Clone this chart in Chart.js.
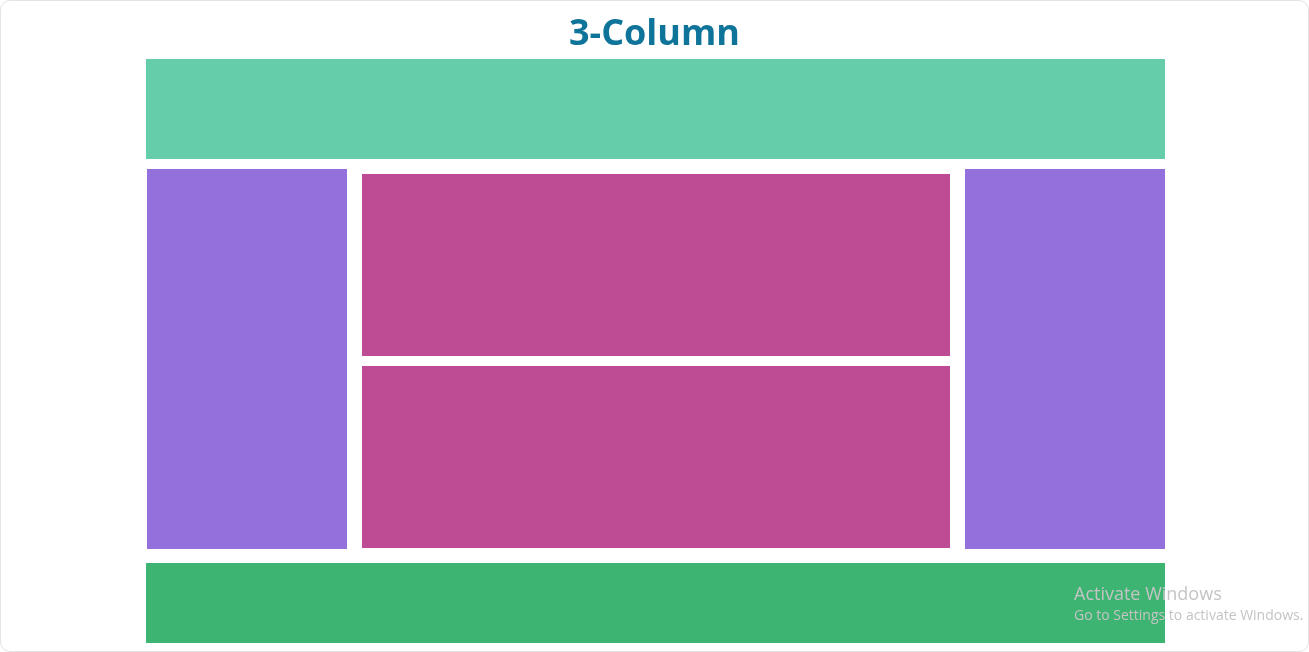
<!DOCTYPE html>
<html>
<head>
<meta charset="utf-8">
<script src="https://cdn.jsdelivr.net/npm/chart.js@4"></script>
<style>
  html, body { margin: 0; padding: 0; background: #fff; }
  #wrap { position: relative; width: 1309px; height: 652px; box-sizing: border-box;
          border: 1px solid #e3e3e3; border-radius: 10px; overflow: hidden; }
  #title { position: absolute; left: 0; right: 0; top: 6px; text-align: center;
           font-family: 'Open Sans', sans-serif; font-weight: 700; font-size: 36px;
           color: #0f7499; }
  #wm { position: absolute; left: 1073px; top: 580px; font-family: 'Open Sans', sans-serif;
        color: #c4c4c4; }
  #wm .a { font-size: 18px; }
  #wm .b { font-size: 14px; }
  canvas { position: absolute; left: 0; top: 0; }
</style>
</head>
<body>
<div id="wrap">
  <canvas id="layoutChart" width="1307" height="650"></canvas>
  <div id="title">3-Column</div>
  <div id="wm"><div class="a">Activate Windows</div><div class="b">Go to Settings to activate Windows.</div></div>
</div>
<script>
// layout blocks: header, left, main top, main bottom, right, footer
const blockNames = ['header', 'left', 'main-top', 'main-bottom', 'right', 'footer'];
const blockX0 = [146, 147, 362, 362, 965, 146];
const blockX1 = [1165, 347, 950, 950, 1165, 1165];
const blockY0 = [59, 169, 174, 366, 169, 563];
const blockY1 = [159, 549, 356, 548, 549, 643];
const blockColors = ['#66cdab', '#9470dc', '#be4c94', '#be4c94', '#9470dc', '#3db471'];

const boxesPlugin = {
    id: 'boxes',
    beforeDatasetsDraw(chart) {
        const ctx = chart.ctx;
        const xs = chart.scales.x, ys = chart.scales.y;
        blockNames.forEach((n, i) => {
            const l = xs.getPixelForValue(blockX0[i]);
            const r = xs.getPixelForValue(blockX1[i]);
            const t = ys.getPixelForValue(blockY0[i]);
            const b = ys.getPixelForValue(blockY1[i]);
            ctx.fillStyle = blockColors[i];
            ctx.fillRect(l, t, r - l, b - t);
        });
    }
};

new Chart(document.getElementById('layoutChart'), {
    type: 'scatter',
    data: { datasets: [{ data: [] }] },
    options: {
        responsive: false,
        animation: false,
        layout: { padding: 0 },
        plugins: { legend: { display: false }, tooltip: { enabled: false } },
        scales: {
            x: { type: 'linear', min: 1, max: 1308, display: false },
            y: { type: 'linear', min: 1, max: 651, reverse: true, display: false }
        }
    },
    plugins: [boxesPlugin]
});
</script>
</body>
</html>
